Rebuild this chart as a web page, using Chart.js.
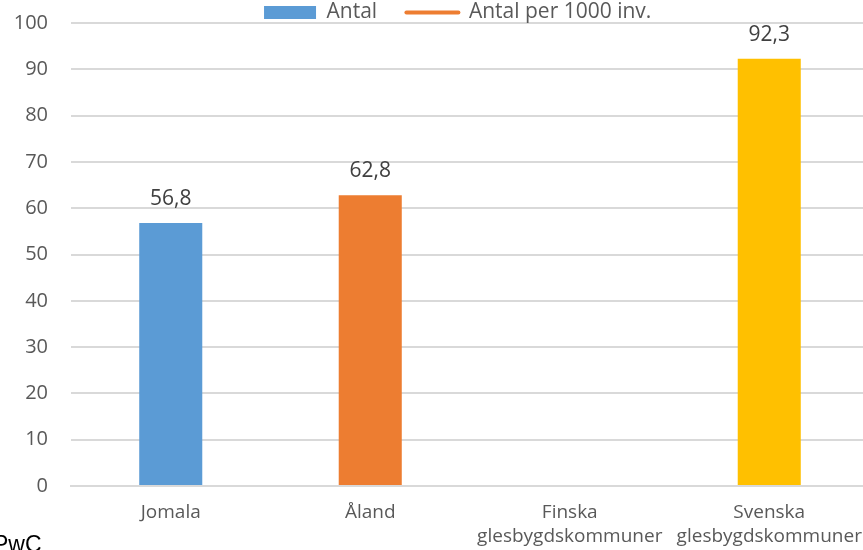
<!DOCTYPE html>
<html>
<head>
<meta charset="utf-8">
<script src="https://cdn.jsdelivr.net/npm/chart.js@4"></script>
<style>
  body { margin: 0; overflow: hidden; background: #fff; }
  #wrap { position: relative; width: 877px; height: 550px; }
  #src { position: absolute; left: -7px; top: 531px; font: 23px "Liberation Sans", Arial, sans-serif; color: #000; }
</style>
</head>
<body>
<div id="wrap">
  <canvas id="myChart" width="877" height="550"></canvas>
  <div id="src">PwC</div>
</div>
<script>
var categories = ['Jomala', 'Åland', ['Finska', 'glesbygdskommuner'], ['Svenska', 'glesbygdskommuner']];
var antal = [56.8, 62.8, null, 92.3];
var antalPer1000 = [null, null, null, null];
var barColors = ['#5b9bd5', '#ed7d31', '#a5a5a5', '#ffc000'];
var yTicks = [0, 10, 20, 30, 40, 50, 60, 70, 80, 90, 100];

var valueLabels = {
  id: 'valueLabels',
  afterDatasetsDraw: function (chart) {
    var ctx = chart.ctx;
    var meta = chart.getDatasetMeta(0);
    ctx.save();
    ctx.font = '21px "Open Sans"';
    ctx.fillStyle = '#404040';
    ctx.textAlign = 'center';
    ctx.textBaseline = 'alphabetic';
    meta.data.forEach(function (bar, i) {
      var v = antal[i];
      if (v == null) return;
      ctx.fillText(v.toFixed(1).replace('.', ','), bar.x, bar.y - 18);
    });
    ctx.restore();
  }
};

// trailing spaces keep the right-aligned legend where the original has it
var pad = new Array(42).join(' ');

var ctx = document.getElementById('myChart').getContext('2d');
var myChart = new Chart(ctx, {
  type: 'bar',
  data: {
    labels: categories,
    datasets: [{
      type: 'bar',
      label: 'Antal',
      data: antal,
      backgroundColor: barColors,
      categoryPercentage: 1,
      barPercentage: 0.316,
      order: 2
    },
    {
      type: 'line',
      label: 'Antal per 1000 inv.',
      data: antalPer1000,
      borderColor: '#ed7d31',
      backgroundColor: '#ed7d31',
      borderWidth: 4,
      order: 1
    }]
  },
  options: {
    responsive: false,
    animation: false,
    layout: { padding: 0 },
    plugins: {
      tooltip: { enabled: false },
      legend: {
        position: 'top',
        align: 'end',
        maxHeight: 23,
        labels: {
          color: '#595959',
          font: { family: 'Open Sans', size: 21 },
          boxWidth: 52,
          boxHeight: 13,
          padding: 2,
          usePointStyle: true,
          pointStyleWidth: 52,
          generateLabels: function (chart) {
            return [
              { text: 'Antal     ', fillStyle: '#5b9bd5', strokeStyle: '#5b9bd5', lineWidth: 0, pointStyle: 'rect', datasetIndex: 0, fontColor: '#595959' },
              { text: 'Antal per 1000 inv.' + pad, fillStyle: '#ed7d31', strokeStyle: '#ed7d31', lineWidth: 4, lineCap: 'round', pointStyle: 'line', datasetIndex: 1, fontColor: '#595959' }
            ];
          }
        }
      }
    },
    scales: {
      x: {
        grid: { display: false },
        border: { color: '#d9d9d9', width: 2 },
        afterFit: function (scale) {
          scale.height = 64;
          scale.paddingLeft = 0;
          scale.paddingRight = 0;
        },
        ticks: { color: '#595959', font: { family: 'Open Sans', size: 19, lineHeight: 1.26 }, padding: 7, maxRotation: 0, autoSkip: false }
      },
      y: {
        min: 0,
        max: 100,
        afterBuildTicks: function (axis) {
          axis.ticks = yTicks.map(function (v) { return { value: v }; });
        },
        afterFit: function (scale) {
          scale.width = 71;
          scale.paddingTop = 12;
          scale.paddingBottom = 12;
        },
        grid: { color: '#d9d9d9', lineWidth: 2, drawTicks: false },
        border: { display: false },
        ticks: { color: '#595959', font: { family: 'Open Sans', size: 20 }, padding: 23 }
      }
    }
  },
  plugins: [valueLabels]
});
</script>
</body>
</html>
